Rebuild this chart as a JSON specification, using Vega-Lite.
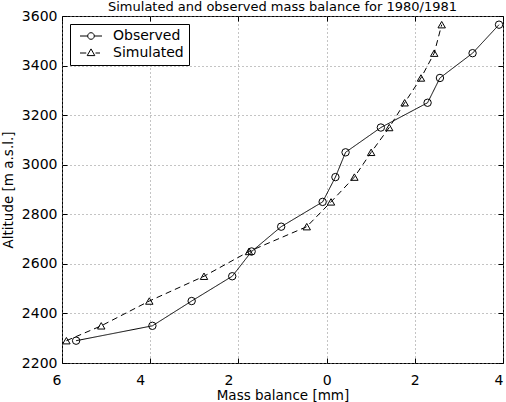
{
  "$schema": "https://vega.github.io/schema/vega-lite/v6.json",
  "width": 441,
  "height": 347,
  "autosize": "none",
  "padding": {"left": 62, "top": 16, "right": 3, "bottom": 39},
  "title": {
    "text": "Simulated and observed mass balance for 1980/1981",
    "font": "DejaVu Sans",
    "fontSize": 13,
    "fontWeight": "normal",
    "color": "#000",
    "anchor": "middle",
    "baseline": "alphabetic",
    "offset": 2,
    "dy": 17
  },
  "config": {
    "font": "DejaVu Sans",
    "view": {"stroke": "#000", "strokeWidth": 1},
    "axis": {
      "labelFont": "DejaVu Sans",
      "labelFontSize": 14,
      "labelColor": "#000",
      "titleFont": "DejaVu Sans",
      "titleFontSize": 13.5,
      "titleFontWeight": "normal",
      "titleColor": "#000",
      "domain": false,
      "tickColor": "#000",
      "tickSize": -5,
      "tickWidth": 1,
      "gridColor": "#888",
      "gridDash": [1, 3],
      "gridWidth": 1,
      "gridOpacity": 1
    }
  },
  "data": {
    "values": [
      {"series": "Observed", "mb": -5.68, "alt": 2290},
      {"series": "Observed", "mb": -3.95, "alt": 2350},
      {"series": "Observed", "mb": -3.06, "alt": 2450},
      {"series": "Observed", "mb": -2.14, "alt": 2550},
      {"series": "Observed", "mb": -1.70, "alt": 2650},
      {"series": "Observed", "mb": -1.03, "alt": 2750},
      {"series": "Observed", "mb": -0.09, "alt": 2850},
      {"series": "Observed", "mb": 0.20, "alt": 2950},
      {"series": "Observed", "mb": 0.43, "alt": 3050},
      {"series": "Observed", "mb": 1.23, "alt": 3150},
      {"series": "Observed", "mb": 2.29, "alt": 3250},
      {"series": "Observed", "mb": 2.57, "alt": 3350},
      {"series": "Observed", "mb": 3.31, "alt": 3450},
      {"series": "Observed", "mb": 3.91, "alt": 3565},
      {"series": "Simulated", "mb": -5.90, "alt": 2290},
      {"series": "Simulated", "mb": -5.11, "alt": 2350},
      {"series": "Simulated", "mb": -4.02, "alt": 2450},
      {"series": "Simulated", "mb": -2.78, "alt": 2550},
      {"series": "Simulated", "mb": -1.76, "alt": 2650},
      {"series": "Simulated", "mb": -0.45, "alt": 2750},
      {"series": "Simulated", "mb": 0.10, "alt": 2850},
      {"series": "Simulated", "mb": 0.63, "alt": 2950},
      {"series": "Simulated", "mb": 1.01, "alt": 3050},
      {"series": "Simulated", "mb": 1.42, "alt": 3150},
      {"series": "Simulated", "mb": 1.77, "alt": 3250},
      {"series": "Simulated", "mb": 2.14, "alt": 3350},
      {"series": "Simulated", "mb": 2.44, "alt": 3450},
      {"series": "Simulated", "mb": 2.61, "alt": 3565}
    ]
  },
  "layer": [
    {
      "mark": {"type": "line", "stroke": "#000", "strokeWidth": 1},
      "encoding": {
        "x": {
          "field": "mb",
          "type": "quantitative",
          "scale": {"domain": [-6, 4], "nice": false, "zero": false},
          "axis": {
            "orient": "bottom",
            "title": "Mass balance [mm]",
            "values": [-6, -4, -2, 0, 2, 4],
            "labelExpr": "format(abs(datum.value), 'd')",
            "labelOffset": {"condition": {"test": "datum.value < 0", "value": -10}, "value": 0},
            "labelPadding": 15,
            "titlePadding": 1,
            "grid": true
          }
        },
        "y": {
          "field": "alt",
          "type": "quantitative",
          "scale": {"domain": [2200, 3600], "nice": false, "zero": false},
          "axis": {
            "orient": "left",
            "title": "Altitude [m a.s.l.]",
            "format": "d",
            "values": [2200, 2400, 2600, 2800, 3000, 3200, 3400, 3600],
            "labelPadding": 10,
            "titlePadding": 6,
            "grid": true
          }
        },
        "strokeDash": {
          "field": "series",
          "type": "nominal",
          "scale": {"domain": ["Observed", "Simulated"], "range": [[1, 0], [6, 4]]},
          "legend": null
        },
        "order": {"field": "alt", "type": "quantitative"}
      }
    },
    {
      "mark": {"type": "point", "filled": false, "stroke": "#000", "strokeWidth": 1, "size": 55, "opacity": 1},
      "encoding": {
        "x": {"field": "mb", "type": "quantitative", "axis": null},
        "y": {"field": "alt", "type": "quantitative", "axis": null},
        "shape": {
          "field": "series",
          "type": "nominal",
          "scale": {"domain": ["Observed", "Simulated"], "range": ["circle", "triangle-up"]},
          "legend": null
        }
      }
    },
    {
      "mark": {"type": "point", "filled": false, "stroke": "#000", "strokeWidth": 1, "opacity": 0},
      "encoding": {
        "x": {
          "field": "mb",
          "type": "quantitative",
          "axis": {"orient": "top", "labels": false, "title": null, "grid": false, "values": [-6, -4, -2, 0, 2, 4]}
        },
        "y": {
          "field": "alt",
          "type": "quantitative",
          "axis": {"orient": "right", "labels": false, "title": null, "grid": false, "values": [2200, 2400, 2600, 2800, 3000, 3200, 3400, 3600]}
        },
        "shape": {
          "field": "series",
          "type": "nominal",
          "scale": {
            "domain": ["Observed", "Simulated"],
            "range": [
              "M-2.2,0H-0.66A0.66,0.66,0,1,1,0.66,0A0.66,0.66,0,1,1,-0.66,0M0.66,0H2.2",
              "M-2.2,0H-0.95M0,-0.82L0.76,0.52L-0.76,0.52ZM0.9,0H1.8"
            ]
          },
          "legend": {
            "title": null,
            "orient": "top-left",
            "offset": 8,
            "padding": 5,
            "strokeColor": "#000",
            "fillColor": "#fff",
            "symbolSize": 100,
            "symbolOffset": 9,
            "symbolOpacity": 1,
            "symbolStrokeColor": "#000",
            "symbolStrokeWidth": 1,
            "symbolFillColor": "transparent",
            "labelFont": "DejaVu Sans",
            "labelFontSize": 14,
            "labelColor": "#000",
            "labelOffset": 15,
            "rowPadding": 3
          }
        }
      }
    }
  ],
  "resolve": {
    "axis": {"x": "independent", "y": "independent"},
    "scale": {"shape": "independent"}
  }
}
